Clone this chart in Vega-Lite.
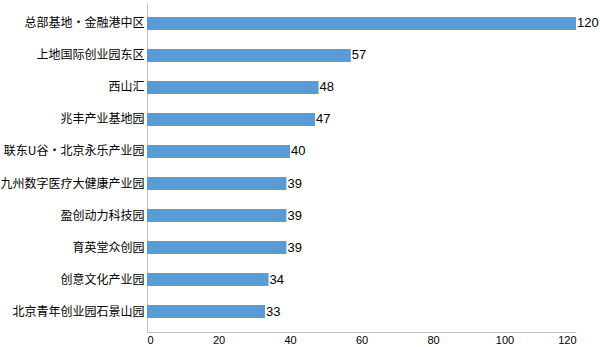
{
  "$schema": "https://vega.github.io/schema/vega-lite/v6.json",
  "width": 429,
  "height": 329,
  "autosize": {"type": "none"},
  "padding": {"left": 147, "top": 3, "right": 24, "bottom": 15},
  "background": "white",
  "config": {"view": {"stroke": null}},
  "data": {
    "values": [
      {"name": "总部基地・金融港中区", "value": 120},
      {"name": "上地国际创业园东区", "value": 57},
      {"name": "西山汇", "value": 48},
      {"name": "兆丰产业基地园", "value": 47},
      {"name": "联东U谷・北京永乐产业园", "value": 40},
      {"name": "九州数字医疗大健康产业园", "value": 39},
      {"name": "盈创动力科技园", "value": 39},
      {"name": "育英堂众创园", "value": 39},
      {"name": "创意文化产业园", "value": 34},
      {"name": "北京青年创业园石景山园", "value": 33}
    ]
  },
  "encoding": {
    "y": {
      "field": "name",
      "type": "nominal",
      "sort": null,
      "scale": {"paddingInner": 0.6, "paddingOuter": 0.44},
      "axis": {
        "title": null,
        "ticks": false,
        "domainColor": "#bfbfbf",
        "labelFont": "Noto Sans CJK SC",
        "labelFontSize": 12,
        "labelColor": "#000000",
        "labelPadding": 3
      }
    },
    "x": {
      "field": "value",
      "type": "quantitative",
      "scale": {"domain": [0, 120], "nice": false},
      "axis": {
        "title": null,
        "values": [0, 20, 40, 60, 80, 100, 120],
        "grid": false,
        "ticks": false,
        "domainColor": "#bfbfbf",
        "labelFont": "Liberation Sans",
        "labelFontSize": 11,
        "labelColor": "#000000",
        "labelPadding": 2
      }
    }
  },
  "layer": [
    {"mark": {"type": "bar", "color": "#5B9BD5"}},
    {
      "mark": {"type": "text", "align": "left", "baseline": "middle", "dx": 1, "font": "Liberation Sans", "fontSize": 13, "color": "#000000"},
      "encoding": {"text": {"field": "value", "type": "quantitative"}}
    }
  ]
}
